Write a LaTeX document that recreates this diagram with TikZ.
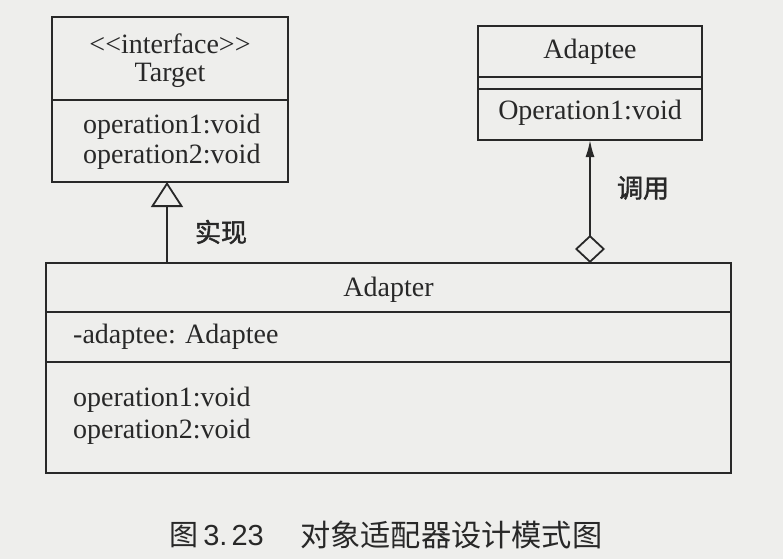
\documentclass[tikz,border=0pt]{standalone}
\usepackage{fontspec}
\setmainfont{Liberation Serif}
\newfontfamily\cjk{Noto Sans CJK SC}
\newfontfamily\cjkbold{Noto Sans CJK SC}[FakeBold=1.6]
\newfontfamily\capsans{Liberation Sans}
\usetikzlibrary{arrows.meta}
\definecolor{paper}{RGB}{238,238,236}
\definecolor{ink}{RGB}{40,40,40}
\begin{document}
\begin{tikzpicture}[x=1pt,y=-1pt,
  umlbox/.style={draw=ink, line width=2.8pt, inner sep=0pt, outer sep=0pt},
  divider/.style={draw=ink, line width=2.5pt},
  txt/.style={inner sep=0pt, text=ink, font=\fontsize{28}{31}\selectfont},
  lbl/.style={inner sep=0pt, text=ink, font=\cjkbold\fontsize{26}{28}\selectfont},
  captxt/.style={inner sep=0pt, text=ink, font=\fontsize{29}{32}\selectfont},
  captitle/.style={inner sep=0pt, text=ink, font=\cjk\fontsize{30.2}{32}\selectfont},
  conn/.style={draw=ink, line width=1.8pt}]
\fill[paper] (0,0) rectangle (783,559);
\useasboundingbox (0,0) rectangle (783,559);

% Target
\node[umlbox, minimum width=236pt, minimum height=165pt] (target) at (170,99.5) {};
\draw[divider] (52,100) -- (288,100);
\node[txt] (tstereo) at (170,44) {<\kern0pt<interface>\kern0pt>};
\node[txt] (tname) at (170,75) {Target};
\node[txt, anchor=west] (top1) at (83,127) {operation1:void};
\node[txt, anchor=west] (top2) at (83,157) {operation2:void};

% Adaptee
\node[umlbox, minimum width=224pt, minimum height=114pt] (adaptee) at (590,83) {};
\draw[divider] (478,77) -- (702,77);
\draw[divider] (478,89) -- (702,89);
\node[txt] (aname) at (590,52) {Adaptee};
\node[txt] (aop1) at (590,113) {Operation1:void};

% Adapter
\node[umlbox, minimum width=685pt, minimum height=210pt] (adapter) at (388.5,368) {};
\draw[divider] (46,312) -- (731,312);
\draw[divider] (46,362) -- (731,362);
\node[txt] (adname) at (388.5,290) {Adapter};
\node[txt, anchor=west] (adattr) at (73,337) {-adaptee: Adaptee};
\node[txt, anchor=west] (adop1) at (73,400) {operation1:void};
\node[txt, anchor=west] (adop2) at (73,432) {operation2:void};

% connectors
\coordinate (implx) at (167,0);
\coordinate (callx) at (590,0);
\draw[conn, -{Triangle[open, length=25pt, width=32pt]}] (adapter.north -| implx) -- (target.south -| implx);
\draw[conn, {Diamond[open, length=28pt, width=30pt]}-{Latex[length=17pt, width=9pt]}] (adapter.north -| callx) -- (adaptee.south -| callx);
\node[lbl] (impl) at (221,232) {实现};
\node[lbl] (call) at (643,188) {调用};

% caption
\node[captxt, anchor=east] (capnum) at (264,535) {{\cjk 图}\hspace{5pt}{\capsans 3.\hspace{4pt}23}};
\node[captitle, anchor=west] (captext) at (300,535) {对象适配器设计模式图};
\end{tikzpicture}
\end{document}
